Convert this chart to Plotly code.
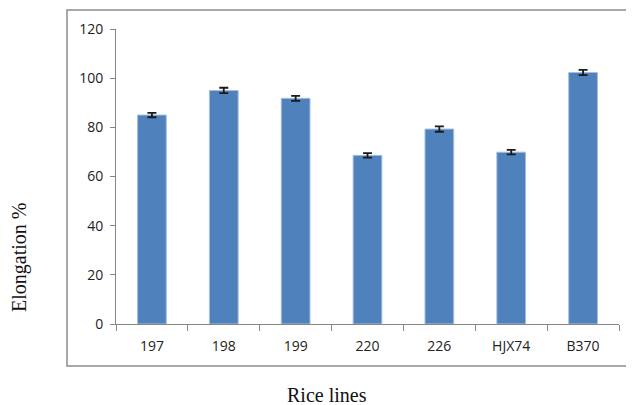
import plotly.graph_objects as go

categories = ["197", "198", "199", "220", "226", "HJX74", "B370"]
elongation = [85.0, 95.0, 91.8, 68.6, 79.3, 69.9, 102.3]
errors = [0.9, 1.1, 1.0, 0.9, 1.1, 0.9, 1.1]
y_ticks = [0, 20, 40, 60, 80, 100, 120]

fig = go.Figure()
fig.add_trace(go.Bar(
    x=categories, y=elongation, width=0.4,
    marker=dict(color="#4F81BD", line=dict(color="#A7BFDE", width=1)),
    error_y=dict(type="data", array=errors, color="#1a1a1a", thickness=1.8, width=4.5),
))

axis_color = "#868686"
fig.update_layout(
    width=634, height=405,
    margin=dict(l=108, r=23, t=21, b=89),
    paper_bgcolor="white", plot_bgcolor="white",
    showlegend=False,
    bargap=0.6,
    font=dict(family="Open Sans", size=14, color="#222"),
    xaxis=dict(
        type="category", showline=True, linecolor=axis_color, linewidth=1,
        ticks="outside", ticklen=6, tickcolor=axis_color, tickson="boundaries",
        showgrid=False, tickfont=dict(family="Open Sans", size=14, color="#222"),
        range=[-0.5, 6.5], ticklabelstandoff=9,
    ),
    yaxis=dict(
        range=[0, 120], tickvals=y_ticks, showline=True, linecolor=axis_color, linewidth=1,
        ticks="outside", ticklen=5, tickcolor=axis_color, showgrid=False, zeroline=False,
        tickfont=dict(family="Open Sans", size=14, color="#222"), ticklabelstandoff=4,
    ),
    shapes=[dict(type="rect", xref="paper", yref="paper",
                 x0=-49/503, x1=1.2, y0=-42/295, y1=1 + 19/295,
                 line=dict(color="#8c8c8c", width=1.5), fillcolor="rgba(0,0,0,0)", layer="below")],
    annotations=[
        dict(text="Rice lines", xref="paper", yref="paper", x=(327-116)/503, y=-(395-324)/295,
             showarrow=False, xanchor="center", yanchor="middle",
             font=dict(family="Liberation Serif", size=20, color="#111")),
        dict(text="Elongation %", xref="paper", yref="paper", x=(19-116)/503, y=(324-258)/295,
             showarrow=False, xanchor="center", yanchor="middle", textangle=-90,
             font=dict(family="Liberation Serif", size=20, color="#111")),
    ],
)

fig.write_html("out.html")
